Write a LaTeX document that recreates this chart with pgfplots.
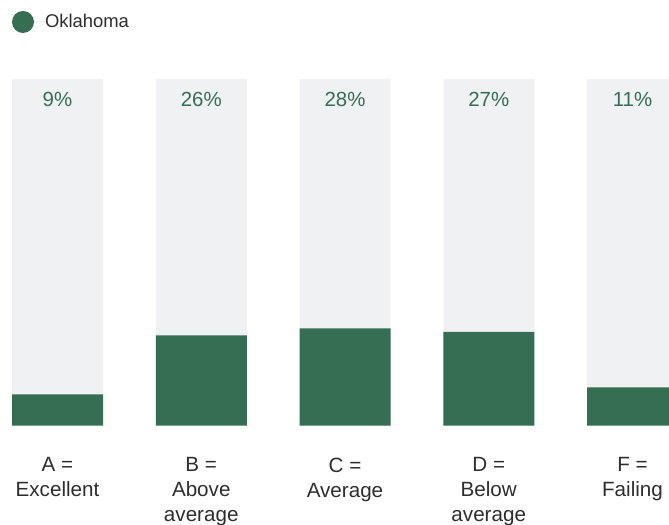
\documentclass[border=0pt]{standalone}
\usepackage{fontspec}
\setmainfont{Liberation Sans}
\usepackage{pgfplots}
\pgfplotsset{compat=1.18}
\usepackage{pgfplotstable}
\definecolor{okgreen}{RGB}{54,110,84}
\definecolor{bggray}{RGB}{240,241,243}
\definecolor{txt}{RGB}{45,45,45}

\pgfplotstableread{
x full val
0 100 9
1 100 26
2 100 28
3 100 27
4 100 11
}\grades

\begin{document}
\begin{tikzpicture}
\begin{axis}[name=ax, scale only axis, width=669bp, height=346.5bp,
 xmin=-0.4, xmax=4.2539, ymin=0, ymax=100,
 /pgf/number format/assume math mode=true,
 axis line style={draw=none}, major tick length=0pt, ytick=\empty,
 xtick={0,1,2,3,4},
 xticklabels={{A =\\Excellent},{B =\\Above\\average},{C =\\Average},{D =\\Below\\average},{F =\\Failing}},
 xticklabel style={align=center, font=\fontsize{20.7}{25}\selectfont, text=txt, inner sep=0pt, anchor=north, yshift=-32bp},
 ybar, bar width=91bp, bar shift=0pt,
 legend image code/.code={\fill[okgreen] (11bp,0bp) circle (11bp); \path (0,0) -- (33bp,0);},
 legend style={draw=none, fill=none, at={(0.01794,1.1963)}, anchor=north west, inner sep=0pt, outer sep=0pt,
   font=\fontsize{18.5}{22}\selectfont, text=txt, nodes={inner sep=0pt}},
]
\addplot[fill=bggray, draw=none, forget plot,
  nodes near coords={\pgfmathprintnumber{\pgfplotspointmeta}\%}, point meta=explicit,
  nodes near coords style={anchor=base, inner sep=0pt, yshift=-28bp, font=\fontsize{20.5}{24}\selectfont, text=okgreen}]
  table[x=x, y=full, meta=val] {\grades};
\addplot[fill=okgreen, draw=none] table[x=x, y=val] {\grades};
\addlegendentry{Oklahoma}
\end{axis}
\pgfresetboundingbox
\path ([yshift=-99.5bp]ax.south west) rectangle ([yshift=79bp]ax.north east);
\end{tikzpicture}
\end{document}
